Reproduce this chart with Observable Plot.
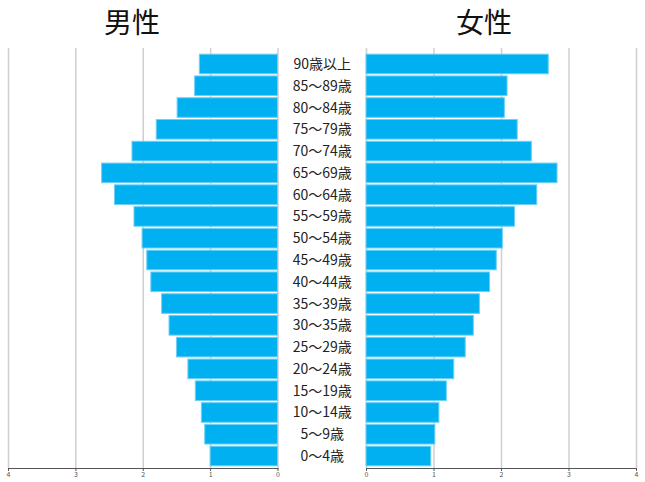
<!DOCTYPE html>
<html><head><meta charset="utf-8">
<script src="https://cdn.jsdelivr.net/npm/d3@7"></script>
<script src="https://cdn.jsdelivr.net/npm/@observablehq/plot@0.6"></script>
<style>
body{margin:0;background:#fff;font-family:"Noto Sans CJK JP",sans-serif}
#wrap{position:relative;width:645px;height:482px;overflow:hidden;background:#fff}
.title{position:absolute;top:3px;font-size:28px;line-height:36px;color:#111;transform:translateX(-50%);white-space:nowrap}
#left{position:absolute;left:0;top:0}
#right{position:absolute;left:280px;top:0}
</style></head>
<body>
<div id="wrap">
  <div id="left"></div>
  <div id="right"></div>
  <div class="title" style="left:132px">男性</div>
  <div class="title" style="left:484px">女性</div>
</div>
<script>
const ages = ["90歳以上","85～89歳","80～84歳","75～79歳","70～74歳","65～69歳","60～64歳","55～59歳","50～54歳","45～49歳","40～44歳","35～39歳","30～35歳","25～29歳","20～24歳","15～19歳","10～14歳","5～9歳","0～4歳"];
const male = [1.16,1.23,1.49,1.80,2.16,2.61,2.42,2.13,2.01,1.94,1.88,1.72,1.61,1.50,1.33,1.22,1.13,1.08,1.00];
const female = [2.70,2.09,2.05,2.24,2.45,2.83,2.53,2.20,2.02,1.93,1.83,1.68,1.59,1.47,1.30,1.19,1.08,1.02,0.96];
const xTicks = [0,1,2,3,4];

const data = ages.map((a,i)=>({age:a, male:male[i], female:female[i]}));
const common = {
  height: 482, marginTop: 48, marginBottom: 14,
  style: {fontFamily: '"Noto Sans CJK JP", sans-serif', fontSize: "7px", background: "transparent", color: "#555", overflow: "visible"},
  y: {domain: ages, axis: null, padding: 0.1, insetTop: 4, round: false}
};
const barStyle = {fill: "#00b0f0", stroke: "#6fd0f4", strokeWidth: 1};
const gridStyle = {stroke: "#cfcfcf", strokeWidth: 1.5, strokeOpacity: 1};

const left = Plot.plot({
  ...common,
  width: 280, marginLeft: 8, marginRight: 2.5,
  x: {domain: [0,4], reverse: true, ticks: xTicks, tickSize: 3, tickPadding: 1, line: true, label: null, tickFormat: d => d},
  marks: [
    Plot.gridX(xTicks, gridStyle),
    Plot.barX(data, {x: "male", y: "age", ...barStyle})
  ]
});
const right = Plot.plot({
  ...common,
  width: 365, marginLeft: 86, marginRight: 9,
  x: {domain: [0,4], ticks: xTicks, tickSize: 3, tickPadding: 1, line: true, label: null, tickFormat: d => d},
  marks: [
    Plot.gridX(xTicks, gridStyle),
    Plot.barX(data, {x: "female", y: "age", ...barStyle}),
    Plot.text(data, {x: () => 0, y: "age", text: "age", dx: -44.3, textAnchor: "middle", fontSize: 14, fill: "#222"})
  ]
});
document.getElementById("left").appendChild(left);
document.getElementById("right").appendChild(right);
</script>
</body></html>
